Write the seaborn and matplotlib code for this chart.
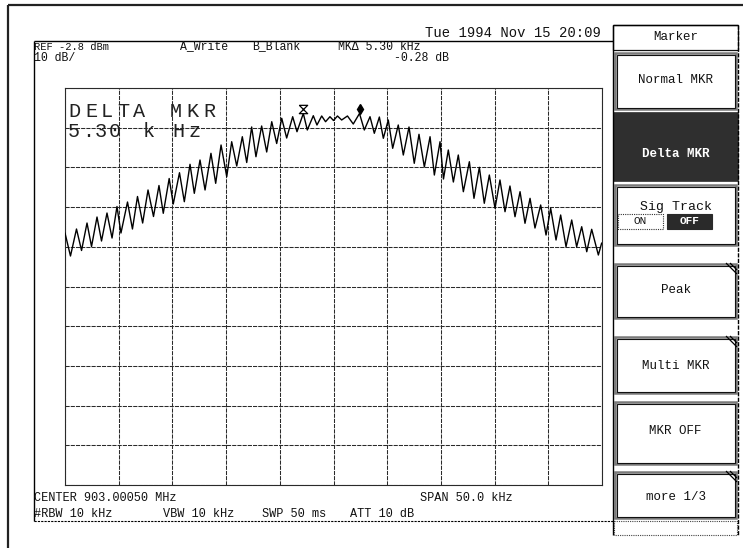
import numpy as np
import pandas as pd
import seaborn as sns
import matplotlib
matplotlib.use("Agg")
import matplotlib.pyplot as plt
from matplotlib.patches import Rectangle
from matplotlib.transforms import ScaledTranslation

freq_offset_khz = [
    -25.00, -24.49, -23.93, -23.46, -22.95, -22.53, -22.02, -21.60, -21.09, -20.62,
    -20.16, -19.79, -19.18, -18.72, -18.25, -17.77, -17.27, -16.76, -16.25, -15.85,
    -15.30, -14.92, -14.34, -13.89, -13.36, -12.96, -12.43, -11.96, -11.41, -10.97,
    -10.47, -9.94, -9.48, -9.01, -8.49, -8.08, -7.62, -7.22, -6.69, -6.22,
    -5.75, -5.29, -4.82, -4.36, -3.80, -3.40, -2.81, -2.44, -1.88, -1.54,
    -1.10, -0.74, -0.33, 0.00, 0.37, 0.76, 1.30, 1.84, 2.42, 2.87,
    3.40, 3.80, 4.27, 4.64, 5.10, 5.51, 6.03, 6.50, 7.03, 7.52,
    7.96, 8.46, 8.99, 9.39, 9.92, 10.24, 10.69, 11.16, 11.62, 12.09,
    12.65, 13.08, 13.58, 14.04, 14.51, 15.04, 15.50, 15.97, 16.43, 16.90,
    17.37, 17.83, 18.30, 18.76, 19.29, 19.79, 20.22, 20.72, 21.15, 21.65,
    22.18, 22.64, 23.11, 23.58, 24.04, 24.66, 24.97]
level_dbm = [
    -39.33, -45.12, -38.32, -43.73, -36.81, -42.73, -35.30, -41.34, -34.29, -40.59,
    -32.65, -39.33, -31.52, -38.32, -30.13, -36.81, -28.49, -35.17, -27.36, -34.36,
    -25.60, -32.02, -24.14, -31.44, -22.02, -29.33, -20.94, -28.49, -19.25, -26.81,
    -17.16, -25.14, -16.33, -22.45, -15.07, -21.57, -12.62, -20.11, -12.37, -18.92,
    -11.29, -16.78, -10.43, -15.40, -10.03, -13.81, -9.22, -13.38, -9.78, -12.12,
    -9.85, -11.29, -10.03, -10.99, -9.85, -10.86, -9.85, -11.87, -9.22, -13.38,
    -10.03, -14.21, -10.11, -15.47, -10.86, -17.99, -12.12, -19.68, -12.62, -21.77,
    -14.46, -22.70, -15.07, -24.72, -16.33, -25.72, -18.42, -26.48, -19.68, -28.92,
    -21.37, -30.59, -22.78, -31.84, -24.72, -33.10, -25.97, -33.96, -27.49, -35.22,
    -28.92, -36.88, -30.59, -38.07, -32.27, -39.83, -33.10, -41.09, -34.79, -42.78,
    -36.05, -42.78, -37.74, -44.04, -38.39, -44.87, -41.84]

marker_freq_khz = [-2.85, 2.45]
marker_level_dbm = [-9.22, -9.22]

x_grid_khz = [-25, -20, -15, -10, -5, 0, 5, 10, 15, 20, 25]
y_grid_dbm = [-102.8, -92.8, -82.8, -72.8, -62.8, -52.8, -42.8, -32.8, -22.8, -12.8, -2.8]

top_row = ["REF -2.8 dBm", "A_Write", "B_Blank", "MK\u0394 5.30 kHz"]
second_row = ["10 dB/", "-0.28 dB"]
date_text = "Tue 1994 Nov 15 20:09"
big_line1 = "DELTA MKR"
big_line2 = "5.30 kHz"
bottom_row1 = ["CENTER 903.00050 MHz", "SPAN 50.0 kHz"]
bottom_row2 = ["#RBW 10 kHz", "VBW 10 kHz", "SWP 50 ms", "ATT 10 dB"]
menu_items = ["Marker", "Normal MKR", "Delta MKR", "Sig Track", "Peak",
              "Multi MKR", "MKR OFF", "more 1/3"]

# ---------------- figure ----------------
sns.set_style("white")
plt.rcParams["font.family"] = ["Liberation Mono", "DejaVu Sans Mono"]

W, H = 743, 548
fig = plt.figure(figsize=(W / 100, H / 100), dpi=100)
fig.patch.set_facecolor("white")

# main trace axes
ax = fig.add_axes([65 / W, 1 - 485 / H, 537 / W, 397 / H])
df = pd.DataFrame({"freq": freq_offset_khz, "level": level_dbm})
sns.lineplot(data=df, x="freq", y="level", ax=ax, color="black",
             linewidth=1.0, estimator=None, sort=False, legend=False, zorder=5)
ax.set_xlim(-25, 25)
ax.set_ylim(-102.8, -2.8)
ax.set_xticks(x_grid_khz)
ax.set_yticks(y_grid_dbm)
ax.tick_params(length=0, labelbottom=False, labelleft=False)
ax.set_xlabel("")
ax.set_ylabel("")
ax.grid(True, color="#2a2a2a", linewidth=0.75, linestyle=(0, (4, 1)))
for sp in ax.spines.values():
    sp.set_color("#2a2a2a")
    sp.set_linewidth(0.8)
    sp.set_linestyle((0, (2, 1)))

# markers
hourglass = [(-1, 1), (1, 1), (-1, -1), (1, -1), (-1, 1)]
up = ScaledTranslation(0, 3 / 72, fig.dpi_scale_trans)
ax.plot([marker_freq_khz[0]], [marker_level_dbm[0]], marker=hourglass,
        markersize=6, markerfacecolor="white", markeredgecolor="black",
        markeredgewidth=0.9, linestyle="none", zorder=6,
        transform=ax.transData + up)
ax.plot([marker_freq_khz[1]], [marker_level_dbm[1]], marker="d",
        markersize=5, markerfacecolor="black", markeredgecolor="black",
        linestyle="none", zorder=6, transform=ax.transData + up)

# overlay in pixel coordinates for frame, labels and menu
ov = fig.add_axes([0, 0, 1, 1], zorder=10)
ov.set_xlim(0, W)
ov.set_ylim(H, 0)
ov.axis("off")

def line(x0, y0, x1, y1, lw=1.0, ls="-", c="black"):
    ov.plot([x0, x1], [y0, y1], color=c, lw=lw, ls=ls, solid_capstyle="butt")

def txt(x, y, s, size=8.3, ha="left", c="#111111", **kw):
    ov.text(x, y, s, fontsize=size, ha=ha, va="center", color=c, **kw)

# outer photo frame
line(8, 5, 743, 5, lw=1.6, c="#222222")
line(8, 5, 8, 548, lw=1.6, c="#222222")

# screen frame
line(34, 41, 613, 41, lw=1.0)
line(34, 41, 34, 521, lw=1.0)
line(34, 521, 613, 521, lw=0.8, ls=(0, (2, 1)))

# header texts
txt(34, 46.5, top_row[0], size=7.5)
txt(180, 46.5, top_row[1])
txt(252, 46.5, top_row[2])
txt(338, 46.5, top_row[3])
txt(34, 58, second_row[0])
txt(449, 58, second_row[1], ha="right")
txt(425, 33, date_text, size=10)

# big delta marker readout, character by character
big_x1 = [68, 85, 101, 117, 133, 150, 170, 186, 203]
for ch, x in zip(big_line1, big_x1):
    txt(x, 111.5, ch, size=14.5, c="#222222")
big_x2 = [68, 82, 95, 109, 126, 143, 172, 189]
for ch, x in zip(big_line2, big_x2):
    txt(x, 131.5, ch, size=14.5, c="#222222")

# bottom texts
txt(34, 498, bottom_row1[0], size=8.6)
txt(420, 498, bottom_row1[1], size=8.6)
txt(34, 514, bottom_row2[0], size=8.6)
txt(163, 514, bottom_row2[1], size=8.6)
txt(262, 514, bottom_row2[2], size=8.6)
txt(350, 514, bottom_row2[3], size=8.6)

# ---------------- menu panel ----------------
L, R = 613, 738
cx = (L + R) / 2
line(L, 25, R, 25, lw=1.0)
line(L, 25, L, 535, lw=1.0)
line(R, 25, R, 535, lw=1.0, ls=(0, (3, 1)))

def box(y0, y1, thick=True, fill=None, notch=False):
    if fill is not None:
        ov.add_patch(Rectangle((L, y0), R - L, y1 - y0, facecolor=fill,
                               edgecolor=fill, lw=0.5))
        return
    if thick:
        ov.add_patch(Rectangle((L + 2, y0 + 2), R - L - 4, y1 - y0 - 4,
                               facecolor="white", edgecolor="#7a7a7a", lw=1.8))
        ov.add_patch(Rectangle((L + 3.5, y0 + 3.5), R - L - 7, y1 - y0 - 7,
                               facecolor="none", edgecolor="#111111", lw=0.8))
    else:
        ov.add_patch(Rectangle((L, y0), R - L, y1 - y0, facecolor="white",
                               edgecolor="#111111", lw=0.9))
    if notch:
        for d in (0, 4):
            line(R - 12 + d, y0 + 1, R - 1, y0 + 12 - d, lw=0.9)

box(25, 50, thick=False)
txt(cx, 37.5, menu_items[0], size=9, ha="center")
box(51, 111)
txt(cx, 80, menu_items[1], size=9, ha="center")
box(112, 181, fill="#2f2f2f")
txt(cx, 154, menu_items[2], size=9, ha="center", c="white", fontweight="bold")
box(183, 247)
txt(cx, 207, menu_items[3], size=9.5, ha="center")
ov.add_patch(Rectangle((618, 214), 45, 15, facecolor="white",
                       edgecolor="#333333", lw=0.8, ls=(0, (1, 1))))
txt(640.5, 221.5, "ON", size=8, ha="center")
ov.add_patch(Rectangle((667, 214), 45, 15, facecolor="#2a2a2a",
                       edgecolor="#2a2a2a", lw=0.8))
txt(689.5, 221.5, "OFF", size=8, ha="center", c="white", fontweight="bold")
box(262, 320, notch=True)
txt(cx, 290, menu_items[4], size=9, ha="center")
box(335, 395, notch=True)
txt(cx, 366, menu_items[5], size=9, ha="center")
box(400, 466)
txt(cx, 431, menu_items[6], size=9, ha="center")
box(470, 520, notch=True)
txt(cx, 497, menu_items[7], size=9, ha="center")
ov.add_patch(Rectangle((L + 1, 521), R - L - 2, 14, facecolor="white",
                       edgecolor="#444444", lw=0.8, ls=(0, (1, 1))))

fig.savefig("out.png", dpi=100, facecolor="white")
